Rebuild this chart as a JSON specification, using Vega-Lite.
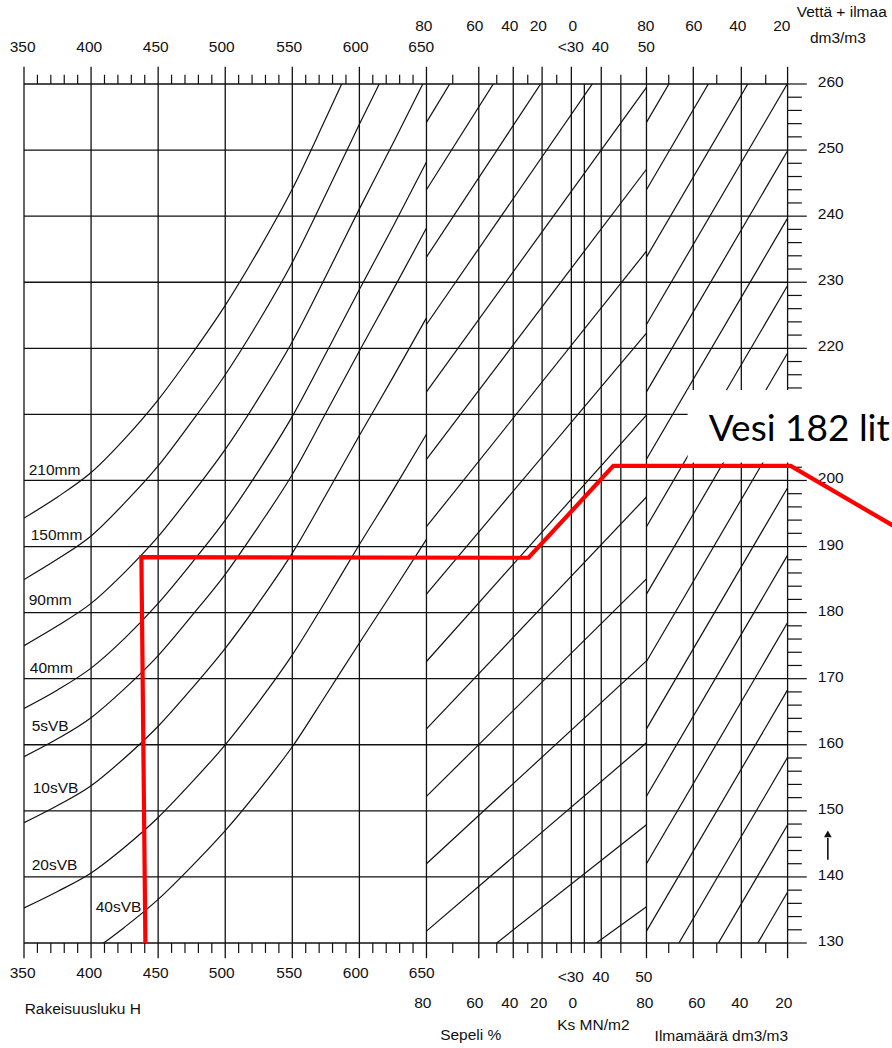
{
"$schema": "https://vega.github.io/schema/vega-lite/v6.json",
"width": 764, "height": 859,
"autosize": {"type": "none"},
"padding": {"left": 24, "top": 84, "right": 104, "bottom": 105},
"background": "white",
"config": {"view": {"stroke": null}},
"datasets": {
"hgrid": [{"w":130},{"w":140},{"w":150},{"w":160},{"w":170},{"w":180},{"w":190},{"w":200},{"w":210},{"w":220},{"w":230},{"w":240},{"w":250},{"w":260}],
"vgrid": [{"x":350},{"x":400},{"x":450},{"x":500},{"x":550},{"x":600},{"x":650},{"x":689.0},{"x":714.7},{"x":736.2},{"x":758.0},{"x":767.7},{"x":780.3},{"x":794.9},{"x":814.0},{"x":848.9},{"x":884.7},{"x":919.2}],
"curves": [
{"c":1,"h":350,"w":194.3},{"c":1,"h":375,"w":197.5},{"c":1,"h":400,"w":201.2},{"c":1,"h":425,"w":206.3},{"c":1,"h":450,"w":212.2},{"c":1,"h":475,"w":219.1},{"c":1,"h":500,"w":226.5},{"c":1,"h":525,"w":234.9},{"c":1,"h":550,"w":244.1},{"c":1,"h":575,"w":254.8},{"c":1,"h":600,"w":265.8},
{"c":2,"h":350,"w":185.0},{"c":2,"h":375,"w":188.1},{"c":2,"h":400,"w":191.6},{"c":2,"h":425,"w":196.6},{"c":2,"h":450,"w":202.2},{"c":2,"h":475,"w":208.9},{"c":2,"h":500,"w":216.0},{"c":2,"h":525,"w":224.1},{"c":2,"h":550,"w":233.0},{"c":2,"h":575,"w":243.3},{"c":2,"h":600,"w":253.9},{"c":2,"h":625,"w":264.2},
{"c":3,"h":350,"w":175.0},{"c":3,"h":375,"w":178.0},{"c":3,"h":400,"w":181.4},{"c":3,"h":425,"w":186.1},{"c":3,"h":450,"w":191.5},{"c":3,"h":475,"w":197.9},{"c":3,"h":500,"w":204.7},{"c":3,"h":525,"w":212.5},{"c":3,"h":550,"w":221.0},{"c":3,"h":575,"w":230.9},{"c":3,"h":600,"w":241.1},{"c":3,"h":625,"w":251.0},{"c":3,"h":650,"w":261.1},
{"c":4,"h":350,"w":165.5},{"c":4,"h":375,"w":168.3},{"c":4,"h":400,"w":171.6},{"c":4,"h":425,"w":176.1},{"c":4,"h":450,"w":181.4},{"c":4,"h":475,"w":187.5},{"c":4,"h":500,"w":194.0},{"c":4,"h":525,"w":201.5},{"c":4,"h":550,"w":209.7},{"c":4,"h":575,"w":219.2},{"c":4,"h":600,"w":228.9},{"c":4,"h":625,"w":238.4},{"c":4,"h":650,"w":248.2},
{"c":5,"h":350,"w":158.2},{"c":5,"h":375,"w":160.9},{"c":5,"h":400,"w":164.1},{"c":5,"h":425,"w":168.5},{"c":5,"h":450,"w":173.5},{"c":5,"h":475,"w":179.5},{"c":5,"h":500,"w":185.8},{"c":5,"h":525,"w":193.1},{"c":5,"h":550,"w":200.9},{"c":5,"h":575,"w":210.2},{"c":5,"h":600,"w":219.6},{"c":5,"h":625,"w":228.8},{"c":5,"h":650,"w":238.2},
{"c":6,"h":350,"w":148.2},{"c":6,"h":375,"w":150.8},{"c":6,"h":400,"w":153.8},{"c":6,"h":425,"w":158.0},{"c":6,"h":450,"w":162.8},{"c":6,"h":475,"w":168.5},{"c":6,"h":500,"w":174.6},{"c":6,"h":525,"w":181.5},{"c":6,"h":550,"w":189.0},{"c":6,"h":575,"w":197.8},{"c":6,"h":600,"w":206.8},{"c":6,"h":625,"w":215.6},{"c":6,"h":650,"w":224.6},
{"c":7,"h":350,"w":135.3},{"c":7,"h":375,"w":137.8},{"c":7,"h":400,"w":140.6},{"c":7,"h":425,"w":144.5},{"c":7,"h":450,"w":149.0},{"c":7,"h":475,"w":154.3},{"c":7,"h":500,"w":160.0},{"c":7,"h":525,"w":166.5},{"c":7,"h":550,"w":173.6},{"c":7,"h":575,"w":181.8},{"c":7,"h":600,"w":190.3},{"c":7,"h":625,"w":198.5},{"c":7,"h":650,"w":207.0},
{"c":8,"h":350,"w":123.7},{"c":8,"h":375,"w":126.0},{"c":8,"h":400,"w":128.7},{"c":8,"h":425,"w":132.4},{"c":8,"h":450,"w":136.6},{"c":8,"h":475,"w":141.6},{"c":8,"h":500,"w":147.0},{"c":8,"h":525,"w":153.1},{"c":8,"h":550,"w":159.7},{"c":8,"h":575,"w":167.5},{"c":8,"h":600,"w":175.4},{"c":8,"h":625,"w":183.2},{"c":8,"h":650,"w":191.1}
],
"sepeli": [
{"id":1,"x":650,"w":111.4},{"id":1,"x":814,"w":135.5},
{"id":2,"x":650,"w":121.6},{"id":2,"x":814,"w":147.9},
{"id":3,"x":650,"w":131.8},{"id":3,"x":814,"w":160.3},
{"id":4,"x":650,"w":142.0},{"id":4,"x":814,"w":172.7},
{"id":5,"x":650,"w":152.2},{"id":5,"x":814,"w":185.1},
{"id":6,"x":650,"w":162.4},{"id":6,"x":814,"w":197.5},
{"id":7,"x":650,"w":172.6},{"id":7,"x":814,"w":209.9},
{"id":8,"x":650,"w":182.8},{"id":8,"x":814,"w":222.3},
{"id":9,"x":650,"w":193.0},{"id":9,"x":814,"w":234.7},
{"id":10,"x":650,"w":203.2},{"id":10,"x":814,"w":247.1},
{"id":11,"x":650,"w":213.4},{"id":11,"x":814,"w":259.5},
{"id":12,"x":650,"w":223.6},{"id":12,"x":814,"w":271.9},
{"id":13,"x":650,"w":233.8},{"id":13,"x":814,"w":284.3},
{"id":14,"x":650,"w":244.0},{"id":14,"x":814,"w":296.7},
{"id":15,"x":650,"w":254.2},{"id":15,"x":814,"w":309.1}
],
"ilma": [
{"id":1,"x":814,"w":101.2},{"id":1,"x":919.2,"w":137.7},
{"id":2,"x":814,"w":111.4},{"id":2,"x":919.2,"w":147.9},
{"id":3,"x":814,"w":121.6},{"id":3,"x":919.2,"w":158.1},
{"id":4,"x":814,"w":131.8},{"id":4,"x":919.2,"w":168.3},
{"id":5,"x":814,"w":142.0},{"id":5,"x":919.2,"w":178.5},
{"id":6,"x":814,"w":152.2},{"id":6,"x":919.2,"w":188.7},
{"id":7,"x":814,"w":162.4},{"id":7,"x":919.2,"w":198.9},
{"id":8,"x":814,"w":172.6},{"id":8,"x":919.2,"w":209.1},
{"id":9,"x":814,"w":182.8},{"id":9,"x":919.2,"w":219.3},
{"id":10,"x":814,"w":193.0},{"id":10,"x":919.2,"w":229.5},
{"id":11,"x":814,"w":203.2},{"id":11,"x":919.2,"w":239.7},
{"id":12,"x":814,"w":213.4},{"id":12,"x":919.2,"w":249.9},
{"id":13,"x":814,"w":223.6},{"id":13,"x":919.2,"w":260.1},
{"id":14,"x":814,"w":233.8},{"id":14,"x":919.2,"w":270.3},
{"id":15,"x":814,"w":244.0},{"id":15,"x":919.2,"w":280.5},
{"id":16,"x":814,"w":254.2},{"id":16,"x":919.2,"w":290.7}
],
"topLong": [{"x":350},{"x":400},{"x":450},{"x":500},{"x":550},{"x":600},{"x":650},{"x":689.0},{"x":714.7},{"x":736.2},{"x":758.0},{"x":780.3},{"x":814.0},{"x":848.9},{"x":884.7},{"x":919.2}],
"topShort": [{"x":360},{"x":370},{"x":380},{"x":390},{"x":410},{"x":420},{"x":430},{"x":440},{"x":460},{"x":470},{"x":480},{"x":490},{"x":510},{"x":520},{"x":530},{"x":540},{"x":560},{"x":570},{"x":580},{"x":590},{"x":610},{"x":620},{"x":630},{"x":640},{"x":669.6},{"x":702.4},{"x":725.5},{"x":747.1},{"x":794.9},{"x":830.6},{"x":866.4},{"x":902.9}],
"botLong": [{"x":350},{"x":400},{"x":450},{"x":500},{"x":550},{"x":600},{"x":650},{"x":689.0},{"x":714.7},{"x":736.2},{"x":780.3},{"x":814.0},{"x":848.9},{"x":884.7},{"x":919.2}],
"botShort": [{"x":360},{"x":370},{"x":380},{"x":390},{"x":410},{"x":420},{"x":430},{"x":440},{"x":460},{"x":470},{"x":480},{"x":490},{"x":510},{"x":520},{"x":530},{"x":540},{"x":560},{"x":570},{"x":580},{"x":590},{"x":610},{"x":620},{"x":630},{"x":640},{"x":669.6},{"x":702.4},{"x":725.5},{"x":747.1},{"x":758.0},{"x":767.7},{"x":794.9},{"x":830.6},{"x":866.4},{"x":902.9}],
"rMajor": [{"w":130},{"w":140},{"w":150},{"w":160},{"w":170},{"w":180},{"w":190},{"w":200},{"w":210},{"w":220},{"w":230},{"w":240},{"w":250},{"w":260}],
"rMinor": [{"w":132},{"w":134},{"w":136},{"w":138},{"w":142},{"w":144},{"w":146},{"w":148},{"w":152},{"w":154},{"w":156},{"w":158},{"w":162},{"w":164},{"w":166},{"w":168},{"w":172},{"w":174},{"w":176},{"w":178},{"w":182},{"w":184},{"w":186},{"w":188},{"w":192},{"w":194},{"w":196},{"w":198},{"w":202},{"w":204},{"w":206},{"w":208},{"w":212},{"w":214},{"w":216},{"w":218},{"w":222},{"w":224},{"w":226},{"w":228},{"w":232},{"w":234},{"w":236},{"w":238},{"w":242},{"w":244},{"w":246},{"w":248},{"w":252},{"w":254},{"w":256},{"w":258}],
"rLabels": [{"w":130,"t":"130"},{"w":140,"t":"140"},{"w":150,"t":"150"},{"w":160,"t":"160"},{"w":170,"t":"170"},{"w":180,"t":"180"},{"w":190,"t":"190"},{"w":200,"t":"200"},{"w":220,"t":"220"},{"w":230,"t":"230"},{"w":240,"t":"240"},{"w":250,"t":"250"},{"w":260,"t":"260"}],
"lblC": [
{"x":648.0,"w":268.8,"t":"80"},{"x":686.0,"w":268.8,"t":"60"},{"x":712.1,"w":268.8,"t":"40"},{"x":733.4,"w":268.8,"t":"20"},{"x":759.1,"w":268.8,"t":"0"},{"x":813.5,"w":268.8,"t":"80"},{"x":849.3,"w":268.8,"t":"60"},{"x":882.1,"w":268.8,"t":"40"},{"x":914.9,"w":268.8,"t":"20"},
{"x":349.0,"w":265.6,"t":"350"},{"x":398.6,"w":265.6,"t":"400"},{"x":448.2,"w":265.6,"t":"450"},{"x":497.4,"w":265.6,"t":"500"},{"x":547.7,"w":265.6,"t":"550"},{"x":597.3,"w":265.6,"t":"600"},{"x":646.1,"w":265.6,"t":"650"},{"x":757.6,"w":265.6,"t":"<30"},{"x":779.6,"w":265.6,"t":"40"},{"x":813.9,"w":265.6,"t":"50"},
{"x":349.0,"w":125.4,"t":"350"},{"x":398.6,"w":125.4,"t":"400"},{"x":448.2,"w":125.4,"t":"450"},{"x":497.4,"w":125.4,"t":"500"},{"x":547.7,"w":125.4,"t":"550"},{"x":597.3,"w":125.4,"t":"600"},{"x":646.5,"w":125.4,"t":"650"},{"x":757.6,"w":124.9,"t":"<30"},{"x":780.0,"w":124.9,"t":"40"},{"x":812.0,"w":124.9,"t":"50"},
{"x":647.3,"w":120.9,"t":"80"},{"x":686.0,"w":120.9,"t":"60"},{"x":712.1,"w":120.9,"t":"40"},{"x":733.7,"w":120.9,"t":"20"},{"x":759.1,"w":120.9,"t":"0"},{"x":812.8,"w":120.9,"t":"80"},{"x":851.5,"w":120.9,"t":"60"},{"x":883.6,"w":120.9,"t":"40"},{"x":916.4,"w":120.9,"t":"20"},
{"x":774.4,"w":117.6,"t":"Ks MN/m2"},{"x":683.0,"w":116.1,"t":"Sepeli %"},{"x":869.8,"w":115.9,"t":"Ilmamäärä dm3/m3"},{"x":956.7,"w":267.0,"t":"dm3/m3"}
],
"lblL": [
{"x":350.5,"w":120.0,"t":"Rakeisuusluku H"},{"x":926.0,"w":270.9,"t":"Vettä + ilmaa"},
{"x":353.5,"w":201.6,"t":"210mm"},{"x":355.0,"w":191.8,"t":"150mm"},{"x":353.5,"w":181.9,"t":"90mm"},{"x":354.3,"w":171.6,"t":"40mm"},{"x":355.7,"w":162.9,"t":"5sVB"},{"x":356.5,"w":153.5,"t":"10sVB"},{"x":355.7,"w":141.8,"t":"20sVB"},{"x":403.4,"w":135.4,"t":"40sVB"}
],
"red": [{"s":1,"x":440.5,"w":130.0},{"s":2,"x":437.5,"w":188.4},{"s":3,"x":726.1,"w":188.3},{"s":4,"x":789.3,"w":202.2},{"s":5,"x":921.5,"w":202.2},{"s":6,"x":1000,"w":192.9}],
"one": [{"k":1}]
},
"layer": [
{"data":{"name":"hgrid"},"mark":{"type":"rule","stroke":"#111","strokeWidth":1.3},
 "encoding":{"y":{"field":"w","type":"quantitative","scale":{"domain":[130,260],"nice":false,"zero":false},"axis":null},
 "x":{"datum":350,"type":"quantitative","scale":{"domain":[350,919.5],"nice":false,"zero":false},"axis":null},"x2":{"datum":919.2}}},
{"data":{"name":"vgrid"},"mark":{"type":"rule","stroke":"#111","strokeWidth":1.3},
 "encoding":{"x":{"field":"x","type":"quantitative","scale":{"domain":[350,919.5],"nice":false,"zero":false},"axis":null},
 "y":{"datum":130,"type":"quantitative","scale":{"domain":[130,260],"nice":false,"zero":false},"axis":null},"y2":{"datum":260}}},
{"data":{"name":"curves"},"mark":{"type":"line","stroke":"#111","strokeWidth":1.2,"interpolate":"monotone","clip":true},
 "encoding":{"x":{"field":"h","type":"quantitative","scale":{"domain":[350,919.5],"nice":false,"zero":false},"axis":null},
 "y":{"field":"w","type":"quantitative","scale":{"domain":[130,260],"nice":false,"zero":false},"axis":null},"detail":{"field":"c"}}},
{"data":{"name":"sepeli"},"mark":{"type":"line","stroke":"#111","strokeWidth":1.2,"clip":true},
 "encoding":{"x":{"field":"x","type":"quantitative","scale":{"domain":[350,919.5],"nice":false,"zero":false},"axis":null},
 "y":{"field":"w","type":"quantitative","scale":{"domain":[130,260],"nice":false,"zero":false},"axis":null},"detail":{"field":"id"}}},
{"data":{"name":"ilma"},"mark":{"type":"line","stroke":"#111","strokeWidth":1.2,"clip":true},
 "encoding":{"x":{"field":"x","type":"quantitative","scale":{"domain":[350,919.5],"nice":false,"zero":false},"axis":null},
 "y":{"field":"w","type":"quantitative","scale":{"domain":[130,260],"nice":false,"zero":false},"axis":null},"detail":{"field":"id"}}},
{"data":{"name":"topLong"},"mark":{"type":"rule","stroke":"#111","strokeWidth":1.3},
 "encoding":{"x":{"field":"x","type":"quantitative"},"y":{"datum":260,"type":"quantitative"},"y2":{"datum":262.6}}},
{"data":{"name":"topShort"},"mark":{"type":"rule","stroke":"#111","strokeWidth":1.2},
 "encoding":{"x":{"field":"x","type":"quantitative"},"y":{"datum":260,"type":"quantitative"},"y2":{"datum":261.4}}},
{"data":{"name":"botLong"},"mark":{"type":"rule","stroke":"#111","strokeWidth":1.3},
 "encoding":{"x":{"field":"x","type":"quantitative"},"y":{"datum":130,"type":"quantitative"},"y2":{"datum":127.7}}},
{"data":{"name":"botShort"},"mark":{"type":"rule","stroke":"#111","strokeWidth":1.2},
 "encoding":{"x":{"field":"x","type":"quantitative"},"y":{"datum":130,"type":"quantitative"},"y2":{"datum":128.5}}},
{"data":{"name":"rMajor"},"mark":{"type":"rule","stroke":"#111","strokeWidth":1.2},
 "encoding":{"y":{"field":"w","type":"quantitative"},"x":{"datum":919.2,"type":"quantitative"},"x2":{"datum":933.5}}},
{"data":{"name":"rMinor"},"mark":{"type":"rule","stroke":"#111","strokeWidth":1.2},
 "encoding":{"y":{"field":"w","type":"quantitative"},"x":{"datum":919.2,"type":"quantitative"},"x2":{"datum":929.8}}},
{"data":{"name":"rLabels"},"mark":{"type":"text","font":"Liberation Sans","fontSize":15.5,"fill":"#111","align":"left","baseline":"middle","dy":-2},
 "encoding":{"y":{"field":"w","type":"quantitative"},"x":{"datum":941.7,"type":"quantitative"},"text":{"field":"t"}}},
{"data":{"name":"one"},"mark":{"type":"rect","fill":"white","stroke":null},
 "encoding":{"x":{"datum":844.7,"type":"quantitative"},"x2":{"datum":1010},"y":{"datum":202.7,"type":"quantitative"},"y2":{"datum":213.7}}},
{"data":{"name":"one"},"mark":{"type":"text","font":"Lato","fontSize":37,"fill":"black","align":"left","baseline":"alphabetic","text":"Vesi 182 litraa"},
 "encoding":{"x":{"datum":860.5,"type":"quantitative"},"y":{"datum":206.0,"type":"quantitative"}}},
{"data":{"name":"lblC"},"mark":{"type":"text","font":"Liberation Sans","fontSize":15.5,"fill":"#111","align":"center","baseline":"middle"},
 "encoding":{"x":{"field":"x","type":"quantitative"},"y":{"field":"w","type":"quantitative"},"text":{"field":"t"}}},
{"data":{"name":"lblL"},"mark":{"type":"text","font":"Liberation Sans","fontSize":15.5,"fill":"#111","align":"left","baseline":"middle"},
 "encoding":{"x":{"field":"x","type":"quantitative"},"y":{"field":"w","type":"quantitative"},"text":{"field":"t"}}},
{"data":{"name":"one"},"mark":{"type":"rule","stroke":"#111","strokeWidth":1.6},
 "encoding":{"x":{"datum":949.2,"type":"quantitative"},"y":{"datum":142.6,"type":"quantitative"},"y2":{"datum":145.9}}},
{"data":{"name":"one"},"mark":{"type":"point","shape":"triangle-up","filled":true,"fill":"#111","stroke":null,"size":60,"opacity":1},
 "encoding":{"x":{"datum":949.2,"type":"quantitative"},"y":{"datum":146.5,"type":"quantitative"}}},
{"data":{"name":"red"},"mark":{"type":"line","stroke":"#ff0000","strokeWidth":4.2,"strokeJoin":"miter","strokeCap":"butt"},
 "encoding":{"x":{"field":"x","type":"quantitative"},"y":{"field":"w","type":"quantitative"},"order":{"field":"s","type":"quantitative"}}}
]
}
